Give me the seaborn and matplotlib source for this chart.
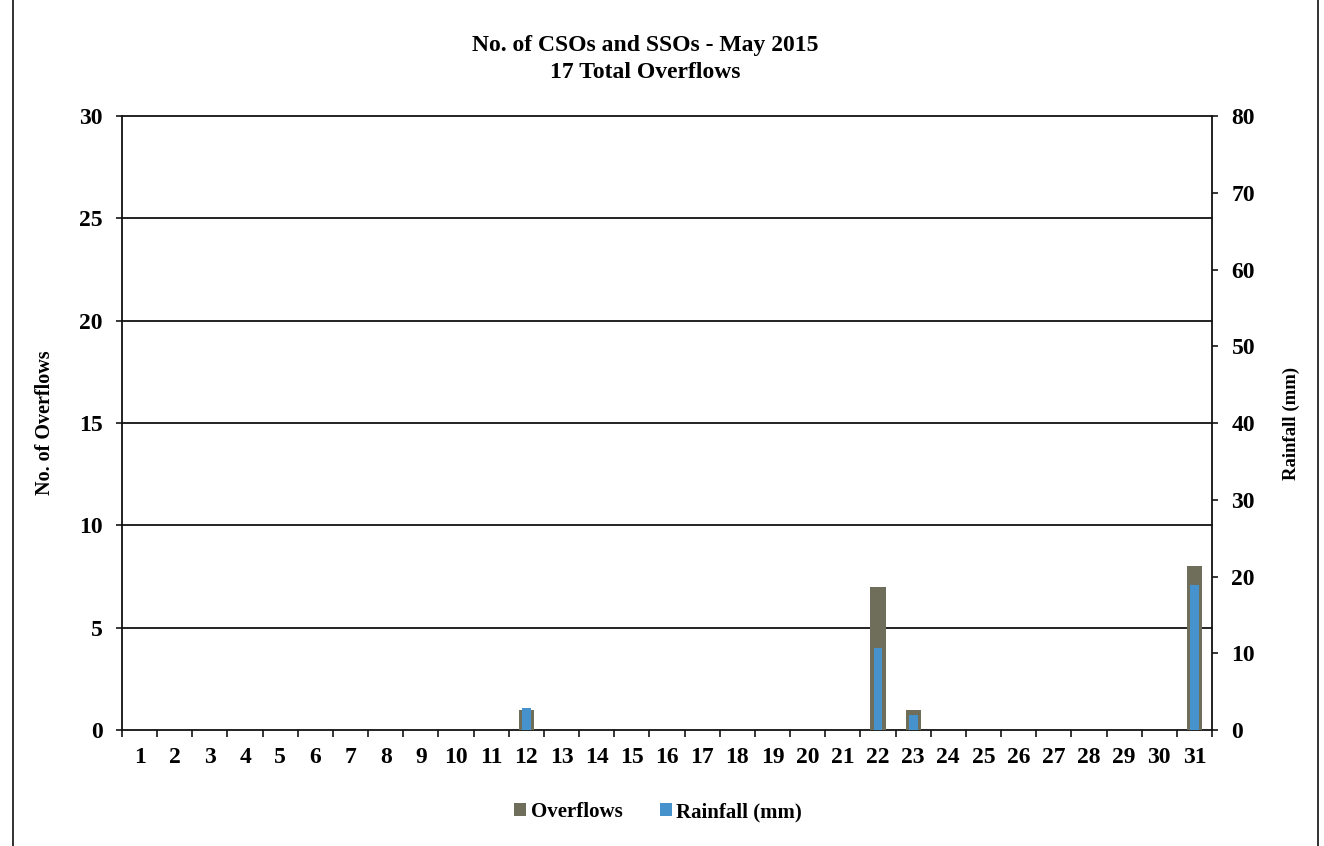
import matplotlib
matplotlib.use("Agg")
import matplotlib.pyplot as plt
from matplotlib.patches import Patch
from matplotlib.lines import Line2D
import numpy as np
import pandas as pd
import seaborn as sns

# Daily values for May 2015
days = [str(d) for d in range(1, 32)]
overflows = [0, 0, 0, 0, 0, 0, 0, 0, 0, 0, 0, 1, 0, 0, 0, 0, 0, 0, 0, 0, 0, 7, 1, 0, 0, 0, 0, 0, 0, 0, 8]
rainfall_mm = [0, 0, 0, 0, 0, 0, 0, 0, 0, 0, 0, 2.9, 0, 0, 0, 0, 0, 0, 0, 0, 0, 10.7, 2.0, 0, 0, 0, 0, 0, 0, 0, 18.9]

title_lines = ["No. of CSOs and SSOs - May 2015", "17 Total Overflows"]

sns.set_theme(style="white")
plt.rcParams["font.family"] = ["Liberation Serif", "DejaVu Serif"]
plt.rcParams["font.weight"] = "bold"
plt.rcParams["text.color"] = "black"
plt.rcParams["axes.labelcolor"] = "black"
plt.rcParams["xtick.color"] = "black"
plt.rcParams["ytick.color"] = "black"

df = pd.DataFrame({"day": days, "overflows": overflows, "rain": rainfall_mm})

gray = "#6e6e5a"
blue = "#4592cc"

fig = plt.figure(figsize=(13.24, 8.46), dpi=100)
ax = fig.add_axes([122 / 1324, 1 - 730 / 846, 1090 / 1324, 614 / 846])
ax2 = ax.twinx()

sns.barplot(data=df, x="day", y="overflows", order=days, color=gray,
            width=0.43, saturation=1, linewidth=0, ax=ax, zorder=3)
sns.barplot(data=df, x="day", y="rain", order=days, color=blue,
            width=0.25, saturation=1, linewidth=0, ax=ax2, zorder=3)

ax.set_zorder(1)
ax2.set_zorder(2)
ax2.patch.set_visible(False)

ax.set_xlim(-0.5, 30.5)
ax.set_ylim(0, 30)
ax2.set_ylim(0, 80)

# left axis
ax.set_yticks(range(0, 31, 5))
ax.tick_params(axis="y", which="major", direction="out", length=4, width=1.1,
               color="black", labelsize=17, pad=10, left=True)
for y in range(5, 31, 5):
    ax.axhline(y, color="#111111", lw=1.3, zorder=1, clip_on=False)
ax.set_ylabel("No. of Overflows", fontsize=14.5, fontweight="bold", labelpad=17)

# x axis: tick marks between days, labels centred on each day
ax.set_xticks(range(31))
ax.set_xticklabels(days, fontsize=17, fontweight="bold")
ax.tick_params(axis="x", which="major", length=0, pad=12)
ax.set_xticks(np.arange(-0.5, 31, 1), minor=True)
ax.tick_params(axis="x", which="minor", direction="out", length=5, width=1.1, color="black", bottom=True)
ax.set_xlabel("")

# right axis
ax2.set_yticks(range(0, 81, 10))
ax2.tick_params(axis="y", direction="out", length=4, width=1.1, color="black",
                labelsize=17, pad=10, right=True)
ax2.set_ylabel("Rainfall (mm)", fontsize=13.5, fontweight="bold", labelpad=20)
ax2.set_xlabel("")

for a in (ax, ax2):
    a.spines["top"].set_visible(False)
    for s in ("left", "right", "bottom"):
        a.spines[s].set_color("#111111")
        a.spines[s].set_linewidth(1.3)
ax.spines["right"].set_visible(False)
ax2.spines["left"].set_visible(False)
ax2.spines["bottom"].set_visible(False)

for lbl in ax.get_yticklabels() + ax2.get_yticklabels() + ax.get_xticklabels():
    lbl.set_fontweight("bold")

fig.text(645 / 1324, 1 - 45 / 846, title_lines[0], ha="center", va="center", fontsize=17, fontweight="bold")
fig.text(645 / 1324, 1 - 73 / 846, title_lines[1], ha="center", va="center", fontsize=17, fontweight="bold")

handles = [Patch(facecolor=gray, edgecolor="none"), Patch(facecolor=blue, edgecolor="none")]
fig.legend(handles, ["Overflows", "Rainfall (mm)"], loc="center", bbox_to_anchor=(658 / 1324, 1 - 812 / 846),
           ncol=2, frameon=False, handlelength=0.6, handleheight=0.6, handletextpad=0.2,
           columnspacing=1.8, prop={"size": 15, "weight": "bold"})

# outer frame
for x in (13 / 1324, 1318 / 1324):
    fig.add_artist(Line2D([x, x], [0, 1], color="#222222", lw=1.3, transform=fig.transFigure))

fig.savefig("out.png", dpi=100)
